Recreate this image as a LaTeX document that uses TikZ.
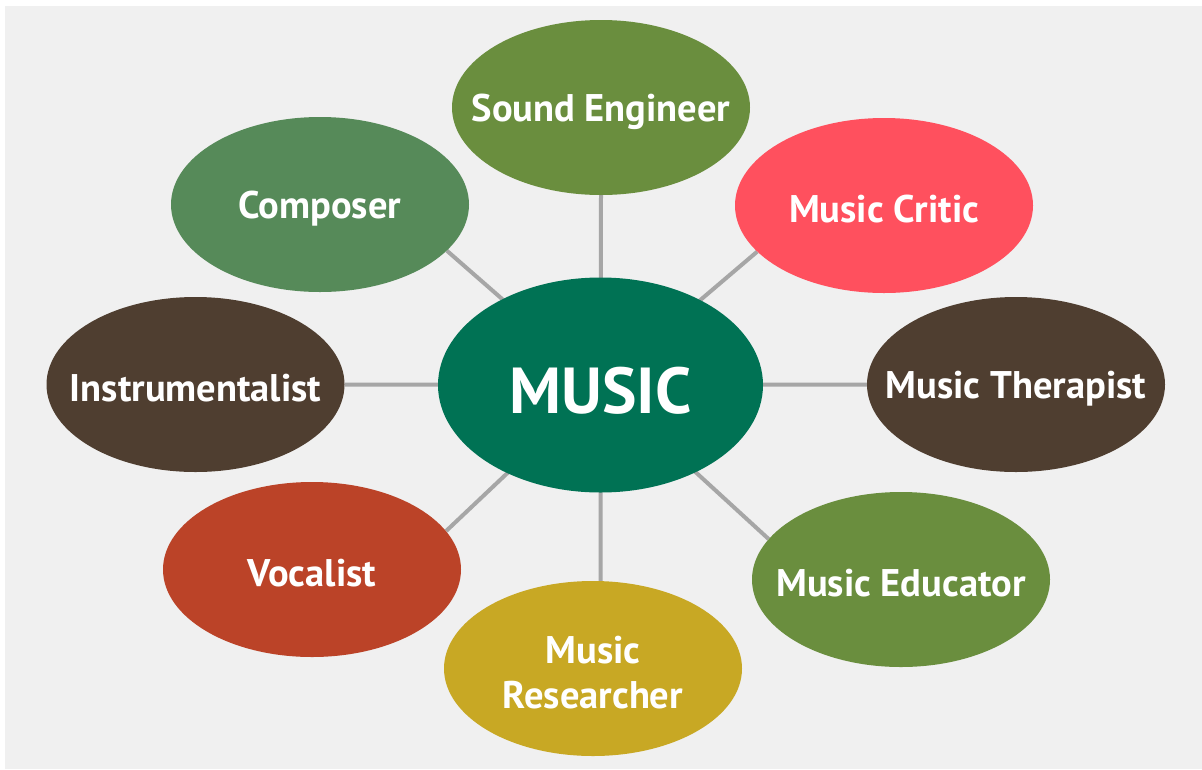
\documentclass[tikz,border=0pt]{standalone}
\usepackage{fontspec}
\setmainfont{PT Sans}
\usetikzlibrary{shapes.geometric,backgrounds}

\definecolor{musicgreen}{HTML}{007254}
\definecolor{olivegreen}{HTML}{6A8E3E}
\definecolor{criticred}{HTML}{FF505E}
\definecolor{darkbrown}{HTML}{4F3E30}
\definecolor{mustard}{HTML}{C8A824}
\definecolor{rustred}{HTML}{BB4328}
\definecolor{sagegreen}{HTML}{568A59}
\definecolor{spokegray}{HTML}{A6A6A6}
\definecolor{backdrop}{HTML}{F0F0F0}

\begin{document}
\begin{tikzpicture}[x=1pt,y=-1pt,
  role/.style={ellipse,minimum width=298pt,minimum height=175pt,inner sep=0pt},
  rolename/.style={text=white,font=\bfseries\fontsize{38.5}{45}\selectfont,align=center,yshift=-4pt},
  spoke/.style={draw=spokegray,line width=4pt}]
    \useasboundingbox (0,0) rectangle (1202,769);
    % Centre
    \node[role,fill=musicgreen,minimum width=325pt,minimum height=215pt,
      label={[rolename,font=\bfseries\fontsize{65}{72}\selectfont,yshift=-2pt]center:MUSIC}] (music) at (600.5,385) {};
    % Careers round it
    \node[role,fill=olivegreen,label={[rolename]center:Sound Engineer}] (engineer) at (601,107.5) {};
    \node[role,fill=criticred,label={[rolename]center:Music Critic}] (critic) at (884,205.5) {};
    \node[role,fill=darkbrown,label={[rolename]center:Music Therapist}] (therapist) at (1016,384.5) {};
    \node[role,fill=olivegreen,label={[rolename]center:Music Educator}] (educator) at (901,579.5) {};
    \node[role,fill=mustard,label={[rolename]center:Music\\Researcher}] (researcher) at (593,668.5) {};
    \node[role,fill=rustred,label={[rolename]center:Vocalist}] (vocalist) at (312,569.5) {};
    \node[role,fill=darkbrown,label={[rolename]center:Instrumentalist}] (instrumentalist) at (195.5,384.5) {};
    \node[role,fill=sagegreen,label={[rolename]center:Composer}] (composer) at (320,204.5) {};
    % Backdrop and spokes
    \begin{scope}[on background layer]
      \fill[white] (0,0) rectangle (1202,769);
      \fill[backdrop] (5,6) rectangle (1202,769);
      \draw[spoke] (music.center) -- (engineer.south);
      \draw[spoke] (music.center) -- (critic.200);
      \draw[spoke] (music.center) -- (therapist.west);
      \draw[spoke] (music.center) -- (educator.163);
      \draw[spoke] (music.center) -- (researcher.85);
      \draw[spoke] (music.center) -- (vocalist.16);
      \draw[spoke] (music.center) -- (instrumentalist.east);
      \draw[spoke] (music.center) -- (composer.-20);
    \end{scope}
\end{tikzpicture}
\end{document}
